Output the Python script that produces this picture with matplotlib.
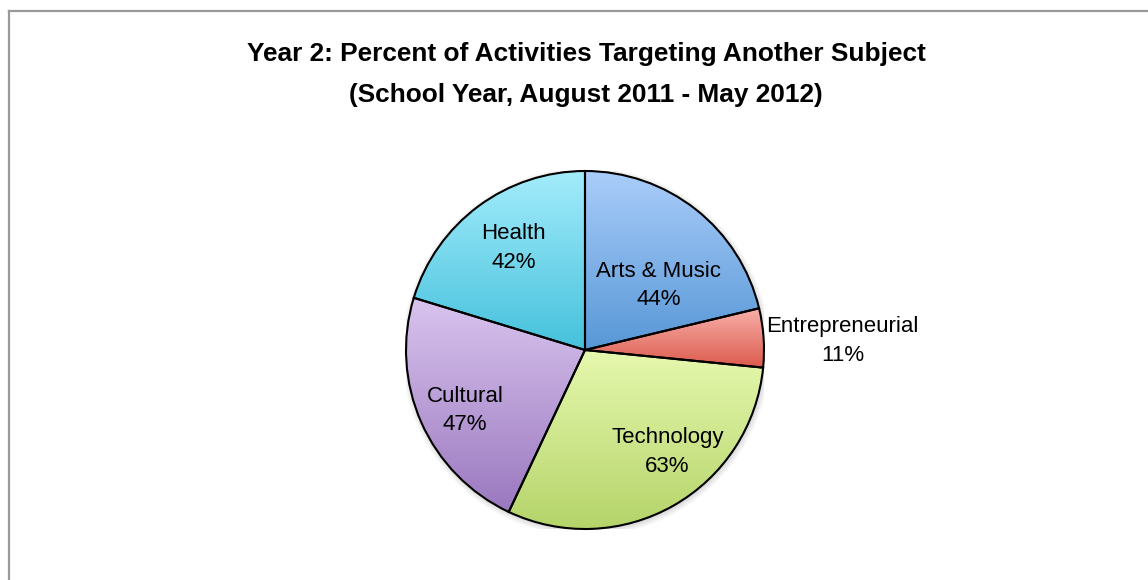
import numpy as np
import matplotlib.pyplot as plt
from matplotlib.colors import LinearSegmentedColormap
from matplotlib.lines import Line2D

# Data
labels = ['Arts & Music', 'Entrepreneurial', 'Technology', 'Cultural', 'Health']
values = [44, 11, 63, 47, 42]

# gradient colours per slice (top, bottom)
top_colors = ['#aacdfa', '#f8b0aa', '#e6f8ae', '#d9c4ee', '#a3ecfb']
bottom_colors = ['#5797d6', '#dc5a4c', '#b5d46a', '#9a78bf', '#45c1dc']

# label centres in units of pie radius
label_pos = [(0.41, 0.36), (1.44, 0.05), (0.46, -0.57), (-0.67, -0.34), (-0.40, 0.57)]

W, H = 1148, 580
fig = plt.figure(figsize=(W / 100, H / 100), dpi=100)

font = ['Liberation Sans', 'DejaVu Sans']

# chart area frame (only left and top edges fall inside the canvas)
fig.add_artist(Line2D([9 / W, 9 / W], [0, 1 - 11 / H], transform=fig.transFigure,
                      color='#999999', lw=1.6))
fig.add_artist(Line2D([9 / W, 1], [1 - 11 / H, 1 - 11 / H], transform=fig.transFigure,
                      color='#999999', lw=1.6))

fig.text(586 / W, 1 - 54 / H, 'Year 2: Percent of Activities Targeting Another Subject',
         ha='center', va='center', fontsize=18.9, fontweight='bold', family=font)
fig.text(586 / W, 1 - 95 / H, '(School Year, August 2011 - May 2012)',
         ha='center', va='center', fontsize=18.9, fontweight='bold', family=font)

R = 179
cx, cy = 585, 350
ax = fig.add_axes([(cx - R) / W, (H - cy - R) / H, 2 * R / W, 2 * R / H])
ax.set_xlim(-1, 1)
ax.set_ylim(-1, 1)
ax.set_aspect('equal')
ax.axis('off')

# soft shadow under the pie
for k in range(6):
    circ = plt.Circle((0.006, -0.01), 1.0 + 0.006 * k, color='black',
                      alpha=0.025, lw=0, zorder=0)
    ax.add_patch(circ)

wedges, _ = ax.pie(values, radius=1, startangle=90, counterclock=False,
                   wedgeprops=dict(edgecolor='black', linewidth=1.5, facecolor='none'))

for w, c0, c1 in zip(wedges, top_colors, bottom_colors):
    w.set_zorder(3)
    ext = w.get_path().get_extents()
    cmap = LinearSegmentedColormap.from_list('g', [c1, c0])
    grad = np.linspace(0, 1, 256).reshape(-1, 1)
    im = ax.imshow(grad, cmap=cmap, origin='lower', aspect='auto',
                   extent=[ext.x0, ext.x1, ext.y0, ext.y1], zorder=2,
                   interpolation='bilinear')
    im.set_clip_path(w)

ax.set_xlim(-1, 1)
ax.set_ylim(-1, 1)

for lab, v, (lx, ly) in zip(labels, values, label_pos):
    ax.text(lx, ly, f'{lab}\n{v}%', ha='center', va='center', fontsize=16,
            linespacing=1.45, family=font, zorder=5)

fig.savefig('out.png', dpi=100)
